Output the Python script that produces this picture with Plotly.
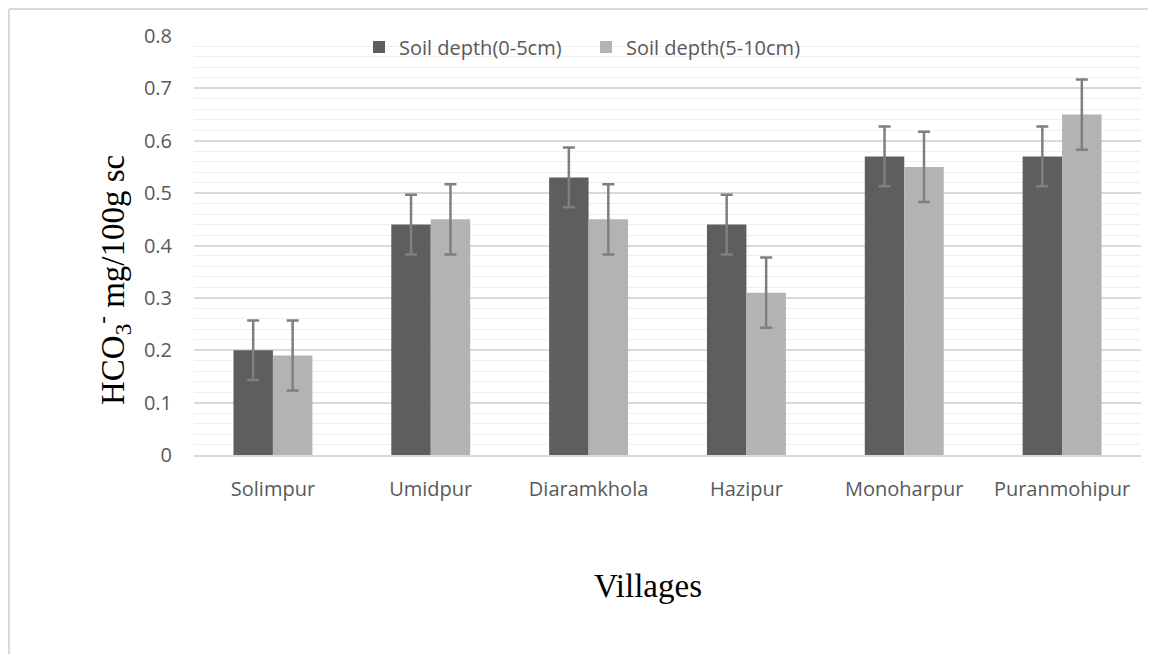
import plotly.graph_objects as go

villages = ["Solimpur", "Umidpur", "Diaramkhola", "Hazipur", "Monoharpur", "Puranmohipur"]
depth_0_5 = [0.20, 0.44, 0.53, 0.44, 0.57, 0.57]
depth_5_10 = [0.19, 0.45, 0.45, 0.31, 0.55, 0.65]
err_0_5 = [0.057, 0.057, 0.057, 0.057, 0.057, 0.057]
err_5_10 = [0.067, 0.067, 0.067, 0.067, 0.067, 0.067]
series_names = ["Soil depth(0-5cm)", "Soil depth(5-10cm)"]
y_ticks = [0, 0.1, 0.2, 0.3, 0.4, 0.5, 0.6, 0.7, 0.8]

# page offset of the plot div (body margin on every side)
OFF = 8
W, H = 1156 - 2 * OFF, 662 - 2 * OFF
L = 194 - OFF
T = 36 - OFF
R = W - (1141 - OFF)
B = H - (455 - OFF)
pw, ph = W - L - R, H - T - B

def px(x):
    return (x - OFF - L) / pw

def py(y):
    return (H - B - (y - OFF)) / ph

tick_font = dict(family="Open Sans, Lato, sans-serif", size=20, color="#595959")
serif = "Liberation Serif, Times New Roman, serif"

fig = go.Figure()
fig.add_trace(go.Bar(
    x=villages, y=depth_0_5, name=series_names[0],
    marker=dict(color="#5e5e5e", line=dict(width=0)),
    error_y=dict(type="data", array=err_0_5, color="#7f7f7f", thickness=2.5, width=6),
))
fig.add_trace(go.Bar(
    x=villages, y=depth_5_10, name=series_names[1],
    marker=dict(color="#b3b3b3", line=dict(width=0)),
    error_y=dict(type="data", array=err_5_10, color="#7f7f7f", thickness=2.5, width=6),
))

fig.update_layout(
    width=W, height=H,
    margin=dict(l=L, r=R, t=T, b=B, autoexpand=False),
    paper_bgcolor="white", plot_bgcolor="white",
    barmode="group", bargap=0.5, bargroupgap=0,
    showlegend=True,
    legend=dict(orientation="h", x=px(586), y=py(47), xanchor="center", yanchor="middle",
                font=tick_font, bgcolor="rgba(0,0,0,0)", itemwidth=30,
                entrywidth=182, entrywidthmode="pixels",
                traceorder="normal"),
    xaxis=dict(showgrid=False, showline=True, linecolor="#d9d9d9", linewidth=2,
               ticks="", tickfont=tick_font, ticklabelstandoff=15, fixedrange=True),
    yaxis=dict(range=[0, 0.8], tickvals=y_ticks, ticktext=[f"{v:g}" for v in y_ticks],
               showgrid=True, gridcolor="#d9d9d9", gridwidth=1.5,
               minor=dict(dtick=0.02, tick0=0, showgrid=True, gridcolor="#efefef", gridwidth=1.2),
               zeroline=False, showline=False, ticks="", tickfont=tick_font,
               ticklabelstandoff=21),
    font=dict(family="Open Sans, sans-serif", color="#595959"),
)

# y-axis title
fig.add_annotation(
    text="HCO<sub>3</sub><sup>-</sup> mg/100g sc",
    xref="paper", yref="paper", x=px(112), y=py(280), xanchor="center", yanchor="middle",
    textangle=-90, showarrow=False,
    font=dict(family=serif, size=33, color="#000000"),
)
# x-axis title
fig.add_annotation(
    text="Villages",
    xref="paper", yref="paper", x=px(648), y=py(586), xanchor="center", yanchor="middle",
    showarrow=False,
    font=dict(family=serif, size=33, color="#000000"),
)

# chart area border (left and top)
fig.add_shape(type="line", xref="paper", yref="paper", x0=px(9), x1=px(9), y0=py(9), y1=py(662),
              line=dict(color="#d9d9d9", width=2))
fig.add_shape(type="line", xref="paper", yref="paper", x0=px(9), x1=px(1156), y0=py(9), y1=py(9),
              line=dict(color="#d9d9d9", width=2))

fig.write_html("out.html", config={"displayModeBar": False})
